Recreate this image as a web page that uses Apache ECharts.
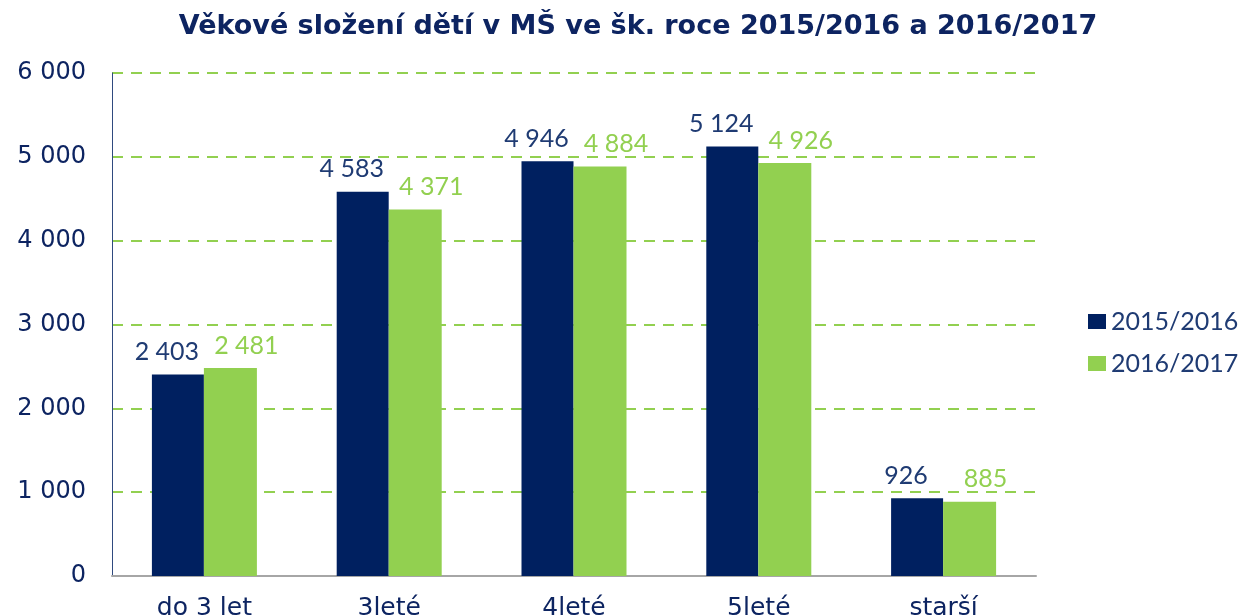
<!DOCTYPE html>
<html>
<head>
<meta charset="utf-8">
<script src="https://cdn.jsdelivr.net/npm/echarts@6/dist/echarts.min.js"></script>
<style>
  html, body { margin: 0; padding: 0; background: #fff; }
  #chart { width: 1243px; height: 615px; }
</style>
</head>
<body>
<div id="chart"></div>
<script>
var categories = ['do 3 let', '3leté', '4leté', '5leté', 'starší'];
var series2015 = [2403, 4583, 4946, 5124, 926];
var series2016 = [2481, 4371, 4884, 4926, 885];
var seriesNames = ['2015/2016', '2016/2017'];

var navy = '#002060';
var green = '#92d050';
var textNavy = '#1f3b73';

// 2403 -> "2 403"
function fmt(v) {
  return String(v).replace(/\B(?=(\d{3})+(?!\d))/g, ' ');
}

var myChart = echarts.init(document.getElementById('chart'));
var option = {
  animation: false,
  title: {
    text: 'Věkové složení dětí v MŠ ve šk. roce 2015/2016 a 2016/2017',
    left: 633,
    textAlign: 'center',
    top: 8,
    textStyle: {
      fontFamily: 'DejaVu Sans',
      fontWeight: 'bold',
      fontSize: 27,
      color: '#0d2461'
    }
  },
  legend: {
    orient: 'vertical',
    left: 1083,
    top: 304,
    itemWidth: 18,
    itemHeight: 15,
    itemGap: 17,
    icon: 'rect',
    textStyle: {
      fontFamily: 'Lato',
      fontSize: 25,
      color: textNavy
    },
    data: seriesNames
  },
  grid: {
    left: 112,
    right: 207,
    top: 73,
    bottom: 39,
    outerBoundsMode: 'none'
  },
  xAxis: {
    type: 'category',
    data: categories,
    axisTick: { show: false },
    axisLine: { lineStyle: { color: '#a6a6a6', width: 2 } },
    axisLabel: {
      margin: 20,
      fontFamily: 'DejaVu Sans',
      fontSize: 25,
      color: '#0d2461'
    }
  },
  yAxis: {
    type: 'value',
    min: 0,
    max: 6000,
    interval: 1000,
    axisLine: { show: true, lineStyle: { color: '#2f4a7f', width: 1 } },
    axisTick: { show: false },
    axisLabel: {
      margin: 26,
      fontFamily: 'DejaVu Sans',
      fontSize: 24,
      color: '#0d2461',
      formatter: fmt
    },
    splitLine: {
      lineStyle: { color: green, type: [11, 8], width: 2 }
    }
  },
  series: [
    {
      name: seriesNames[0],
      type: 'bar',
      data: series2015,
      barWidth: 52,
      barGap: '0%',
      itemStyle: { color: navy },
      label: {
        show: true,
        position: 'top',
        distance: 10,
        offset: [-11, 0],
        fontFamily: 'Lato',
        fontSize: 25,
        color: textNavy,
        formatter: function (p) { return fmt(p.value); }
      }
    },
    {
      name: seriesNames[1],
      type: 'bar',
      data: series2016,
      barWidth: 53,
      barGap: '0%',
      itemStyle: { color: green },
      label: {
        show: true,
        position: 'top',
        distance: 10,
        offset: [16, 0],
        fontFamily: 'Lato',
        fontSize: 25,
        color: green,
        formatter: function (p) { return fmt(p.value); }
      }
    }
  ]
};
myChart.setOption(option);
</script>
</body>
</html>
